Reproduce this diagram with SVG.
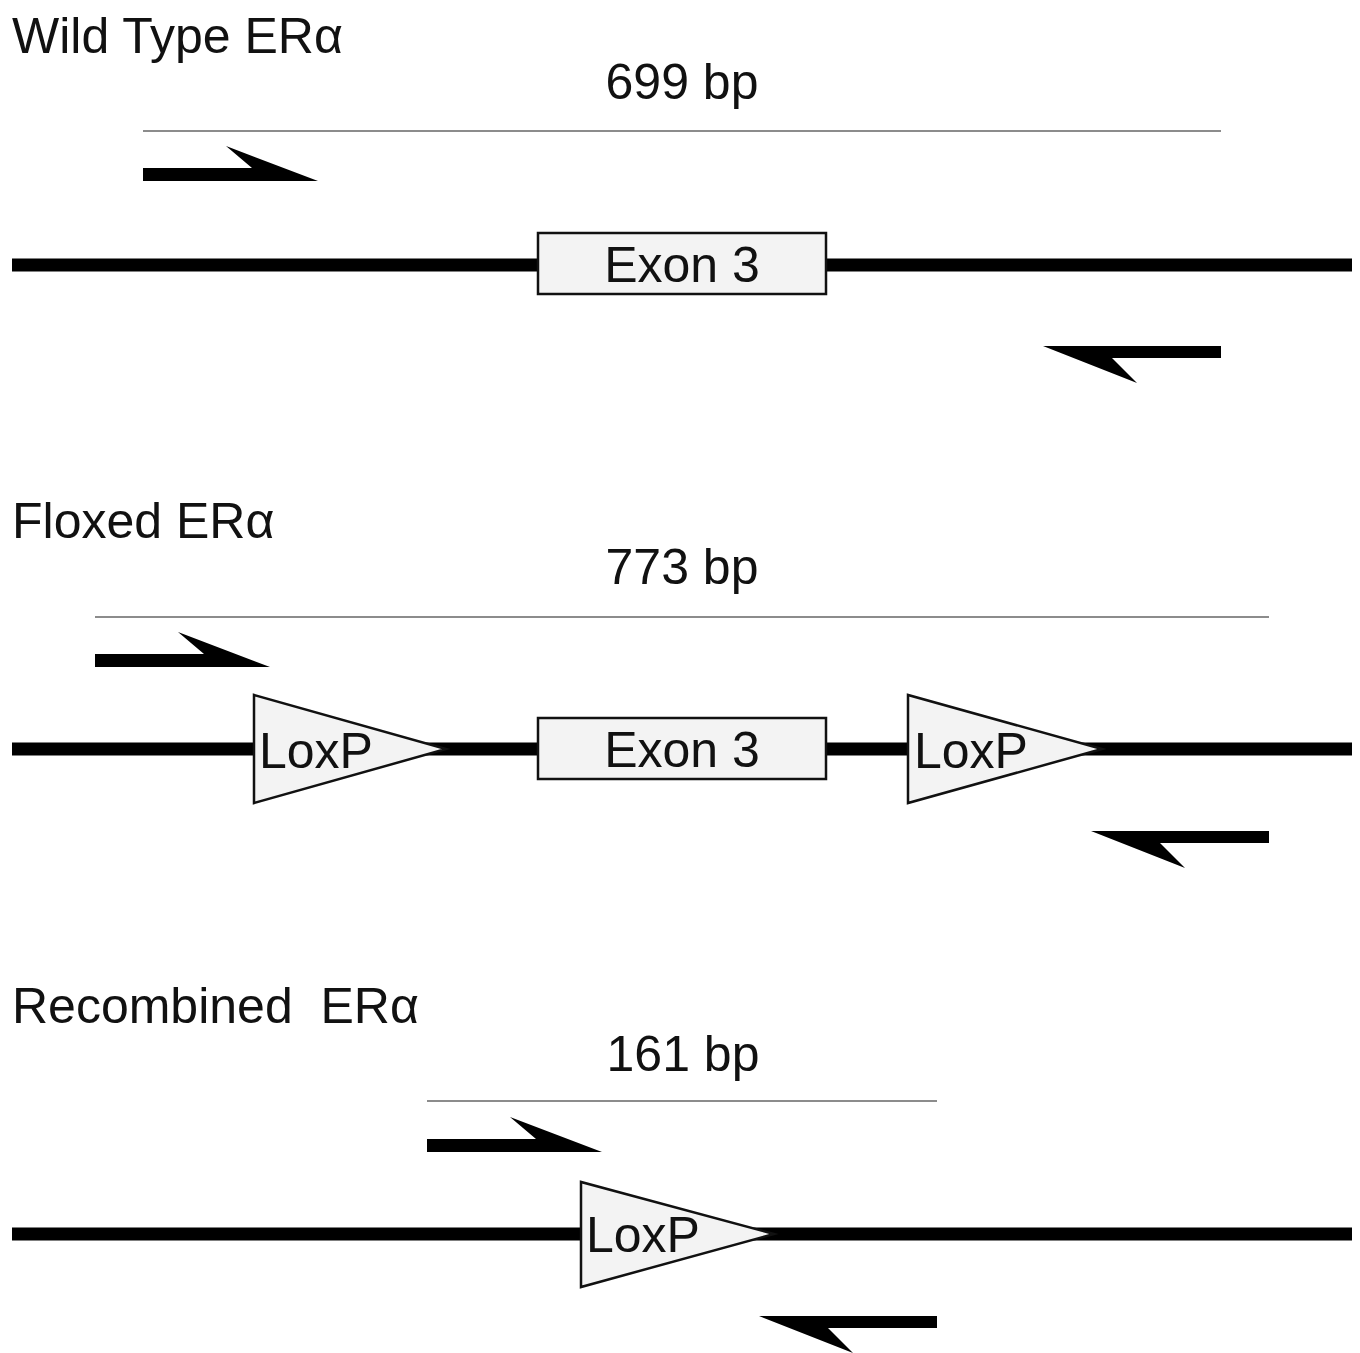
<svg xmlns="http://www.w3.org/2000/svg" xmlns:xlink="http://www.w3.org/1999/xlink" width="1360" height="1353" viewBox="0 0 1360 1353">
<style>
text { font-family: "Liberation Sans", Arial, sans-serif; fill: #111; }
.title { font-size: 50px; }
.size { font-size: 50px; text-anchor: middle; }
.lab { font-size: 50px; }
.dna { stroke: #000; stroke-width: 13; fill: none; }
.amp { stroke: #8c8c8c; stroke-width: 2; fill: none; }
.box { fill: #f3f3f3; stroke: #111; stroke-width: 2.5; }
.primer { fill: #000; }
</style>
<defs>
<path id="fwd" d="M0,0 L109,0 L83,-22 L175,13 L0,13 Z"/>
<path id="rev" d="M0,0 L-178,0 L-84,37 L-109,12 L0,12 Z"/>
</defs>
<rect width="1360" height="1353" fill="#fff"/>

<g id="connectors">
  <line class="dna" x1="12" y1="265" x2="1352" y2="265"/>
  <line class="dna" x1="12" y1="749" x2="1352" y2="749"/>
  <line class="dna" x1="12" y1="1234" x2="1352" y2="1234"/>
  <line class="amp" x1="143" y1="131" x2="1221" y2="131"/>
  <line class="amp" x1="95" y1="617" x2="1269" y2="617"/>
  <line class="amp" x1="427" y1="1101" x2="937" y2="1101"/>
</g>

<g id="wt-title"><text class="title" x="12" y="53">Wild Type ERα</text></g>
<g id="wt-size"><text class="size" x="682" y="99">699 bp</text></g>
<g id="wt-fwd-primer"><use href="#fwd" class="primer" transform="translate(143,168)"/></g>
<g id="wt-rev-primer"><use href="#rev" class="primer" transform="translate(1221,346)"/></g>
<g id="wt-exon3">
  <rect class="box" x="538" y="233" width="288" height="61"/>
  <text class="size" x="682" y="282">Exon 3</text>
</g>

<g id="fl-title"><text class="title" x="12" y="538">Floxed ERα</text></g>
<g id="fl-size"><text class="size" x="682" y="584">773 bp</text></g>
<g id="fl-fwd-primer"><use href="#fwd" class="primer" transform="translate(95,654)"/></g>
<g id="fl-rev-primer"><use href="#rev" class="primer" transform="translate(1269,831)"/></g>
<g id="fl-loxp1">
  <polygon class="box" points="254,695 254,803 446,749"/>
  <text class="lab" x="259" y="768">LoxP</text>
</g>
<g id="fl-exon3">
  <rect class="box" x="538" y="718" width="288" height="61"/>
  <text class="size" x="682" y="767">Exon 3</text>
</g>
<g id="fl-loxp2">
  <polygon class="box" points="908,695 908,803 1102,749"/>
  <text class="lab" x="914" y="768">LoxP</text>
</g>

<g id="rc-title"><text class="title" x="12" y="1023" xml:space="preserve">Recombined  ERα</text></g>
<g id="rc-size"><text class="size" x="683" y="1071">161 bp</text></g>
<g id="rc-fwd-primer"><use href="#fwd" class="primer" transform="translate(427,1139)"/></g>
<g id="rc-rev-primer"><use href="#rev" class="primer" transform="translate(937,1316)"/></g>
<g id="rc-loxp">
  <polygon class="box" points="581,1182 581,1287 774,1234"/>
  <text class="lab" x="586" y="1252">LoxP</text>
</g>
</svg>
